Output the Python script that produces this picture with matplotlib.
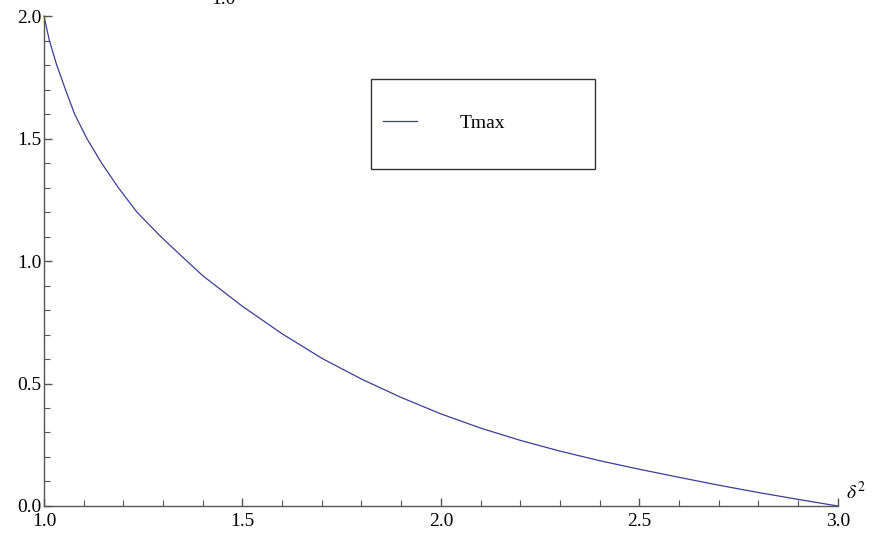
import matplotlib
matplotlib.use("Agg")
import matplotlib.pyplot as plt
from matplotlib.patches import Rectangle
from matplotlib.ticker import MultipleLocator

# Tmax as a function of delta^2
delta2 = [1.0, 1.0135, 1.032, 1.054, 1.077, 1.108, 1.145, 1.187, 1.234, 1.294,
          1.35, 1.4, 1.5, 1.6, 1.7, 1.8, 1.9, 2.0, 2.1, 2.2,
          2.3, 2.4, 2.5, 2.6, 2.7, 2.8, 2.9, 3.0]
tmax = [2.0, 1.9, 1.8, 1.7, 1.6, 1.5, 1.4, 1.3, 1.2, 1.1,
        1.015, 0.94, 0.815, 0.703, 0.603, 0.518, 0.443, 0.376, 0.318, 0.268,
        0.224, 0.185, 0.150, 0.117, 0.085, 0.055, 0.027, 0.0]

series_label = "Tmax"
x_label = r"$\delta^2$"
top_label = "1.0"

plt.rcParams["font.family"] = ["Liberation Serif", "DejaVu Serif"]
plt.rcParams["mathtext.fontset"] = "stix"

axis_gray = "#555555"
line_color = "#3d3d99"

fig = plt.figure(figsize=(8.77, 5.36), dpi=100)
ax = fig.add_axes([0.0502, 0.056, 0.905, 0.914])

ax.plot(delta2, tmax, color=line_color, lw=0.9, clip_on=False, label=series_label)

ax.set_xlim(1.0, 3.0)
ax.set_ylim(0.0, 2.0)

ax.xaxis.set_major_locator(MultipleLocator(0.5))
ax.xaxis.set_minor_locator(MultipleLocator(0.1))
ax.yaxis.set_major_locator(MultipleLocator(0.5))
ax.yaxis.set_minor_locator(MultipleLocator(0.1))
ax.xaxis.set_major_formatter(plt.FormatStrFormatter("%.1f"))
ax.yaxis.set_major_formatter(plt.FormatStrFormatter("%.1f"))

for side in ["top", "right"]:
    ax.spines[side].set_visible(False)
for side in ["left", "bottom"]:
    ax.spines[side].set_color(axis_gray)
    ax.spines[side].set_linewidth(1.0)

ax.tick_params(which="major", direction="in", length=6, width=1.0,
               color=axis_gray, labelsize=14, pad=2)
ax.tick_params(axis="x", which="major", pad=5)
ax.tick_params(which="minor", direction="in", length=4, width=0.8,
               color=axis_gray)

# axis label at the end of the horizontal axis
ax.annotate(x_label, xy=(1.0, 0.0), xycoords="axes fraction",
            xytext=(6, 2), textcoords="offset points",
            fontsize=14, ha="left", va="bottom")

# label partly cut off at the top edge
fig.text(0.255, 0.9925, top_label, fontsize=14, ha="center", va="baseline")

# legend: key and text, with a separate frame box
leg = ax.legend(loc="center left", bbox_to_anchor=(0.4364, 0.770),
                bbox_transform=fig.transFigure, frameon=False,
                fontsize=14, handlelength=1.75, handletextpad=2.2,
                borderpad=0, borderaxespad=0)
fig.add_artist(Rectangle((0.423, 0.6847), 0.2554, 0.1679,
                         transform=fig.transFigure, fill=False,
                         edgecolor="#333333", lw=1.0))

fig.savefig("out.png", dpi=100)
